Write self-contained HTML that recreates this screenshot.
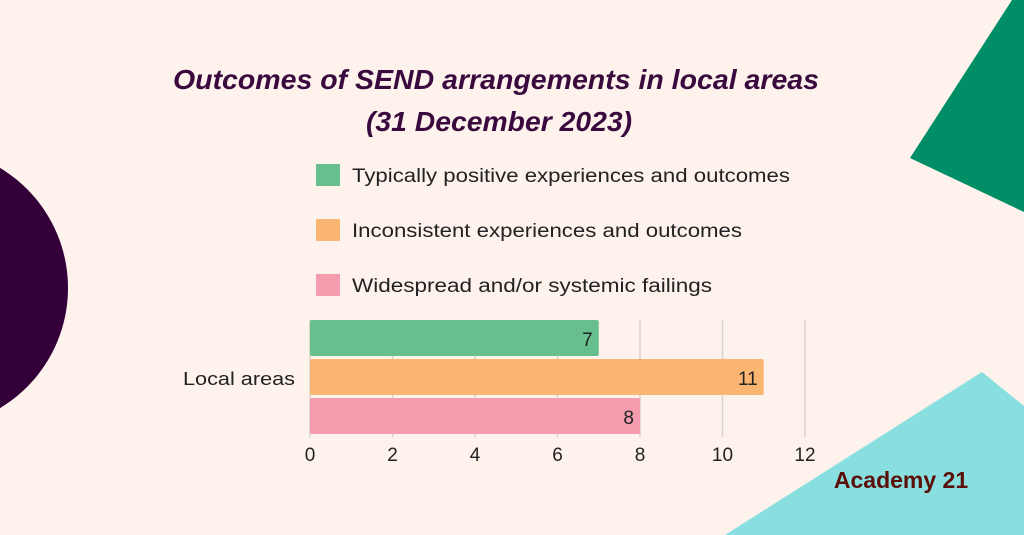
<!DOCTYPE html>
<html><head><meta charset="utf-8"><style>
body{margin:0;width:1024px;height:535px;overflow:hidden;background:#fdf3ec;font-family:"Liberation Sans",sans-serif}
svg{display:block}
</style></head><body>
<svg width="1024" height="535">
<circle cx="-72" cy="288" r="140" fill="#33003a"/>
<polygon points="910,158 1012,0 1024,0 1024,212" fill="#008e67"/>
<polygon points="725,535 982,372 1024,406 1024,535" fill="#89dfdf"/>
<text x="496" y="89" text-anchor="middle" font-size="28" font-weight="bold" font-style="italic" fill="#3a0a3f" textLength="646" lengthAdjust="spacingAndGlyphs">Outcomes of SEND arrangements in local areas</text>
<text x="499" y="131" text-anchor="middle" font-size="28" font-weight="bold" font-style="italic" fill="#3a0a3f" textLength="266" lengthAdjust="spacingAndGlyphs">(31 December 2023)</text>
<g id="legend"></g>
<g id="grid"></g>
<g id="bars"></g>
<text x="295" y="385" text-anchor="end" font-size="18" fill="#222" textLength="112" lengthAdjust="spacingAndGlyphs">Local areas</text>
<text x="901" y="488" text-anchor="middle" font-size="23" font-weight="bold" fill="#5a1008">Academy 21</text>
</svg>
<script>
const categories=["Local areas"];
const seriesNames=["Typically positive experiences and outcomes","Inconsistent experiences and outcomes","Widespread and/or systemic failings"];
const seriesValues=[7,11,8];
const tickValues=[0,2,4,6,8,10,12];
const colors=["#66bf8c","#fbb573","#f59daf"];
const legendWidths=[438,390,360];
const NS="http://www.w3.org/2000/svg";
const x=v=>310+v*41.25;
function mk(t,a,p){const e=document.createElementNS(NS,t);for(const k in a)e.setAttribute(k,a[k]);p.appendChild(e);return e;}
const grid=document.getElementById('grid'),bars=document.getElementById('bars'),leg=document.getElementById('legend');
tickValues.forEach(v=>{
 const l=mk('line',{x1:x(v),x2:x(v),y1:320,y2:437,stroke:'#d8d0cb','stroke-width':1.5},grid);
 
 
 const t=mk('text',{x:x(v),y:461,'text-anchor':'middle','font-size':19,fill:'#222'},grid);
 t.textContent=v;
 
 
});
const bandTop=320,bandH=39,barH=36;
seriesValues.forEach((v,i)=>{
 const y=bandTop+i*bandH;
 const r=mk('rect',{x:x(0),y:y,width:x(v)-x(0),height:barH,rx:2,fill:colors[i]},bars);
 
 
 const t=mk('text',{x:x(v)-6,y:y+26,'text-anchor':'end','font-size':19,fill:'#222'},bars);
 t.textContent=v;
 
 
 const ly=164+i*55;
 const s=mk('rect',{x:316,y:ly,width:24,height:22,fill:colors[i]},leg);
 
 
 const lt=mk('text',{x:352,y:ly+18,'font-size':19,fill:'#222',textLength:legendWidths[i],lengthAdjust:'spacingAndGlyphs'},leg);
 lt.textContent=seriesNames[i];
 
 
});
</script>
</body></html>
